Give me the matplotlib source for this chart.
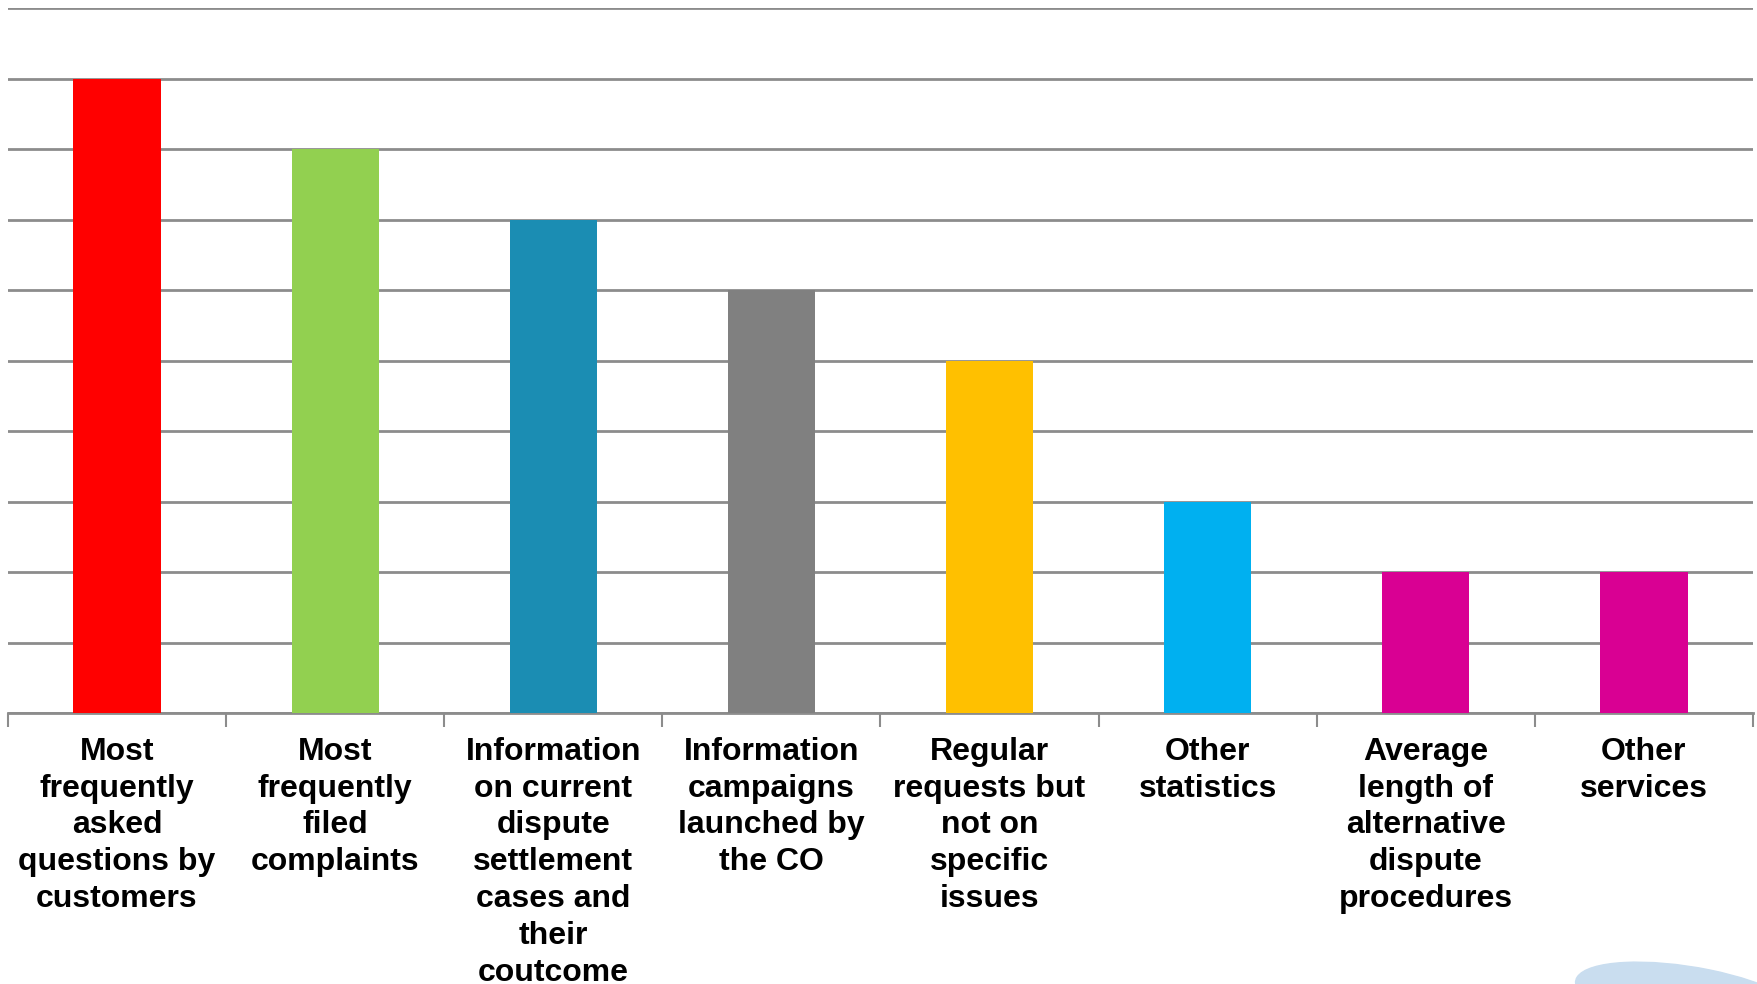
import matplotlib.pyplot as plt
import numpy as np
from matplotlib.patches import Ellipse

categories = [
    'Most\nfrequently\nasked\nquestions by\ncustomers',
    'Most\nfrequently\nfiled\ncomplaints',
    'Information\non current\ndispute\nsettlement\ncases and\ntheir\ncoutcome',
    'Information\ncampaigns\nlaunched by\nthe CO',
    'Regular\nrequests but\nnot on\nspecific\nissues',
    'Other\nstatistics',
    'Average\nlength of\nalternative\ndispute\nprocedures',
    'Other\nservices',
]
values = [9, 8, 7, 6, 5, 3, 2, 2]
colors = ['#FF0000', '#92D050', '#1B8DB3', '#808080', '#FFC000', '#00B0F0', '#D90093', '#D90093']

W, H = 1758, 984
fig = plt.figure(figsize=(W / 100, H / 100), dpi=100)
ax = fig.add_axes([8 / W, 1 - 713 / H, (1753 - 8) / W, (713 - 8) / H])

x = np.arange(len(values))
ax.bar(x, values, width=0.4, color=colors, zorder=3)

ax.set_xlim(-0.5, len(values) - 0.5)
ax.set_ylim(0, 10)
ax.set_yticks(np.arange(0, 11))
ax.yaxis.grid(True, color='#8C8C8C', linewidth=2, zorder=0)
ax.tick_params(axis='y', left=False, labelleft=False)

# boundary ticks, labels at centres
ax.set_xticks(np.arange(-0.5, len(values)))
ax.set_xticklabels([])
ax.tick_params(axis='x', which='major', length=10, width=1.5, color='#8C8C8C', direction='out')
ax.set_xticks(x, minor=True)
ax.set_xticklabels(categories, minor=True, fontsize=23, fontweight='bold',
                   family=['Liberation Sans', 'DejaVu Sans'], linespacing=1.3)
ax.tick_params(axis='x', which='minor', length=0, pad=17)

for s in ['left', 'right', 'top']:
    ax.spines[s].set_visible(False)
ax.spines['bottom'].set_color('#8C8C8C')
ax.spines['bottom'].set_linewidth(2)

# faint logo fragment bottom right
fig.patches.append(Ellipse((1690 / W, 1 - 1000 / H), 240 / W, 64 / H, angle=-20,
                           transform=fig.transFigure, color='#C9DDEF', zorder=0))

fig.savefig('out.png', dpi=100)
